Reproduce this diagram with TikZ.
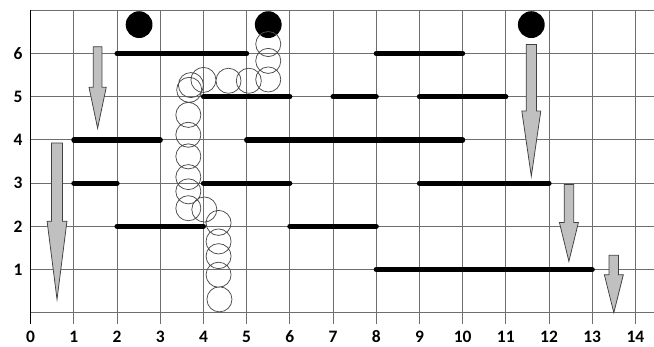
\documentclass[tikz,border=0pt]{standalone}
\usepackage{xcolor}
\usepackage{fontspec}
\setmainfont{Carlito}
\usepackage{tikz}

\definecolor{gridgray}{RGB}{110,110,110}
\definecolor{arrowfill}{RGB}{192,192,192}
\tikzset{
  ledge/.style={line width=3.4pt, line cap=round},
  bubble/.style={draw=black!70, line width=0.5pt},
  fallarrow/.style={draw=black!75, line width=0.5pt, fill=arrowfill},
  axislabel/.style={font=\fontsize{11.5}{13}\selectfont\bfseries, inner sep=0pt}
}
% block arrow pointing down: x, top, head start, tip, shaft half width, head half width
\newcommand{\fallarrow}[6]{%
  \draw[fallarrow] (#1-#5,#2) -- (#1+#5,#2) -- (#1+#5,#3) -- (#1+#6,#3)
    -- (#1,#4) -- (#1-#6,#3) -- (#1-#5,#3) -- cycle;}

\begin{document}
\begin{tikzpicture}[scale=1.0]
  \useasboundingbox (-0.71,-0.78) rectangle (14.43,7.24);
  \draw[gridgray, line width=0.6pt] (0,0) grid (14.43,7);
  \foreach \i in {0,...,14}
    \draw[gridgray, line width=0.6pt] (\i,0) -- (\i,-0.25);
  \draw[black, line width=0.6pt] (0,-0.25) -- (0,7);
  \foreach \i in {0,...,14}
    \node[axislabel] (xl\i) at (\i,-0.56) {\i};
  \foreach \j in {1,...,6}
    \node[axislabel] (yl\j) at (-0.29,\j) {\j};

  \draw[ledge] (2,6) -- (5,6);
  \draw[ledge] (8,6) -- (10,6);
  \draw[ledge] (4,5) -- (6,5);
  \draw[ledge] (7,5) -- (8,5);
  \draw[ledge] (9,5) -- (11,5);
  \draw[ledge] (1,4) -- (3,4);
  \draw[ledge] (5,4) -- (10,4);
  \draw[ledge] (1,3) -- (2,3);
  \draw[ledge] (4,3) -- (6,3);
  \draw[ledge] (9,3) -- (12,3);
  \draw[ledge] (2,2) -- (4,2);
  \draw[ledge] (6,2) -- (8,2);
  \draw[ledge] (8,1) -- (13,1);

  \fill (2.51,6.67) circle (0.31);
  \fill (5.5,6.67) circle (0.31);
  \fill (11.59,6.67) circle (0.31);

  \draw[bubble] (5.5,6.22) circle (0.29) (5.5,5.83) circle (0.29)
    (5.5,5.4) circle (0.29) (5.05,5.37) circle (0.29)
    (4.58,5.37) circle (0.29) (4.0,5.39) circle (0.29)
    (3.71,5.27) circle (0.29) (3.67,5.16) circle (0.29)
    (3.65,4.58) circle (0.29) (3.65,4.12) circle (0.29)
    (3.65,3.62) circle (0.29) (3.65,3.14) circle (0.29)
    (3.65,2.81) circle (0.29) (3.65,2.42) circle (0.29)
    (4.02,2.39) circle (0.29) (4.35,2.08) circle (0.29)
    (4.35,1.65) circle (0.29) (4.35,1.31) circle (0.29)
    (4.35,0.88) circle (0.29) (4.37,0.31) circle (0.29);

  \fallarrow{1.55}{6.16}{5.22}{4.27}{0.1}{0.2}
  \fallarrow{0.61}{3.93}{2.12}{0.31}{0.125}{0.23}
  \fallarrow{11.59}{6.21}{4.67}{3.16}{0.12}{0.22}
  \fallarrow{12.46}{2.97}{2.09}{1.19}{0.11}{0.22}
  \fallarrow{13.5}{1.33}{0.88}{0.0}{0.11}{0.22}
\end{tikzpicture}
\end{document}
